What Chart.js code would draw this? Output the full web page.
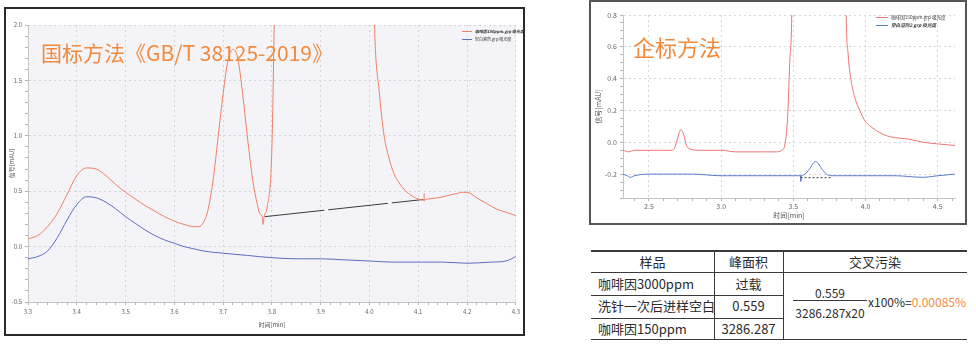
<!DOCTYPE html>
<html>
<head>
<meta charset="utf-8">
<script src="https://cdn.jsdelivr.net/npm/chart.js@4.4.1/dist/chart.umd.min.js"></script>
<style>
  html, body { margin: 0; padding: 0; background: #fff; }
  body { width: 976px; height: 346px; position: relative; overflow: hidden;
         font-family: "Noto Sans CJK SC", "Noto Sans", sans-serif; }
  .frame { position: absolute; box-sizing: border-box; background: #fff; }
  #gbFrame { left: 4px; top: 7px; width: 521px; height: 329px; border: 2px solid #2a2a2a; }
  #qbFrame { left: 589px; top: 0px; width: 378px; height: 225px; border: 2px solid #555; }
  canvas { position: absolute; }
  #gbChart { left: 6px; top: 9px; }
  #qbChart { left: 591px; top: 2px; }
  .method { position: absolute; color: #f28a3d; white-space: nowrap; line-height: 1; }
  .cell { position: absolute; color: #2b2b2b; font-size: 13px; white-space: nowrap; line-height: 22px; height: 22px; }
  .cell.small { font-size: 12px; }
  .rule { position: absolute; background: #3a3a3a; }
</style>
</head>
<body>
<div class="frame" id="gbFrame"></div>
<div class="frame" id="qbFrame"></div>
<canvas id="gbChart" width="517" height="325"></canvas>
<canvas id="qbChart" width="374" height="221"></canvas>
<div class="method" style="left:41px; top:42px; font-size:21px;">国标方法《GB/T 38125-2019》</div>
<div class="method" style="left:633px; top:35px; font-size:22px;">企标方法</div>
<div id="table"></div>

<script>
// ---- GB/T 38125-2019 run: caffeine standard (red) and blank injection (blue)
const gbRedTime = [3.30, 3.32, 3.34, 3.36, 3.38, 3.40, 3.42, 3.44, 3.46, 3.48, 3.50, 3.52, 3.54, 3.56, 3.58,
  3.60, 3.62, 3.64, 3.65, 3.66, 3.67, 3.68, 3.69, 3.70, 3.71, 3.72, 3.73, 3.74, 3.75, 3.76, 3.77, 3.775,
  3.78, 3.782, 3.784, 3.79, 3.80, 3.805, 3.90, 4.01, 4.02, 4.03, 4.04, 4.05, 4.06, 4.07, 4.08, 4.09, 4.10,
  4.11, 4.12, 4.14, 4.16, 4.18, 4.19, 4.20, 4.22, 4.24, 4.26, 4.28, 4.30];
const gbRedSignal = [0.07, 0.10, 0.18, 0.30, 0.47, 0.64, 0.71, 0.70, 0.64, 0.56, 0.49, 0.43, 0.37, 0.32, 0.27,
  0.23, 0.20, 0.18, 0.18, 0.22, 0.35, 0.62, 1.00, 1.38, 1.68, 1.78, 1.70, 1.38, 0.98, 0.62, 0.38, 0.30,
  0.27, 0.20, 0.27, 0.35, 0.90, 2.10, 30.0, 2.05, 1.40, 1.00, 0.80, 0.66, 0.58, 0.52, 0.48, 0.45, 0.43,
  0.42, 0.43, 0.44, 0.46, 0.48, 0.49, 0.49, 0.44, 0.39, 0.34, 0.31, 0.28];
const gbBlueTime = [3.30, 3.32, 3.34, 3.36, 3.38, 3.40, 3.42, 3.44, 3.46, 3.48, 3.50, 3.52, 3.54, 3.56, 3.58,
  3.60, 3.62, 3.64, 3.66, 3.70, 3.75, 3.80, 3.85, 3.90, 3.95, 4.00, 4.05, 4.10, 4.15, 4.20, 4.25,
  4.28, 4.30];
const gbBlueSignal = [-0.11, -0.09, -0.04, 0.08, 0.24, 0.38, 0.45, 0.44, 0.40, 0.34, 0.27, 0.21, 0.15, 0.10, 0.06,
  0.03, 0.00, -0.02, -0.04, -0.06, -0.08, -0.10, -0.11, -0.11, -0.12, -0.13, -0.14, -0.14, -0.14, -0.15, -0.14,
  -0.13, -0.09];
// integration baseline across the late window and its end marker
const gbBaseTime = [3.785, 4.11];
const gbBaseSignal = [0.27, 0.425];
const gbMarkTime = [4.112, 4.112];
const gbMarkSignal = [0.41, 0.48];
const gbXTicks = [3.3, 3.4, 3.5, 3.6, 3.7, 3.8, 3.9, 4.0, 4.1, 4.2, 4.3];
const gbYTicks = [-0.5, 0.0, 0.5, 1.0, 1.5, 2.0];

// ---- in-house method run
const qbRedTime = [2.32, 2.36, 2.40, 2.50, 2.60, 2.66, 2.68, 2.70, 2.72, 2.74, 2.76, 2.78, 2.85, 3.00, 3.10,
  3.20, 3.30, 3.38, 3.42, 3.44, 3.46, 3.475, 3.49, 3.68, 3.865, 3.88, 3.90, 3.93, 3.96, 4.00, 4.05, 4.10,
  4.15, 4.20, 4.30, 4.40, 4.50, 4.62];
const qbRedSignal = [-0.05, -0.06, -0.05, -0.05, -0.05, -0.05, -0.03, 0.03, 0.08, 0.05, -0.02, -0.04, -0.05, -0.05, -0.06,
  -0.06, -0.06, -0.06, -0.05, -0.02, 0.15, 0.50, 0.85, 20.0, 0.85, 0.55, 0.39, 0.27, 0.20, 0.13, 0.09, 0.06,
  0.04, 0.03, 0.02, 0.00, -0.01, -0.02];
const qbBlueTime = [2.32, 2.35, 2.37, 2.40, 2.50, 2.60, 2.80, 3.00, 3.20, 3.40, 3.50, 3.55, 3.58, 3.61, 3.64,
  3.655, 3.67, 3.70, 3.73, 3.76, 3.90, 4.00, 4.20, 4.40, 4.50, 4.62];
const qbBlueSignal = [-0.20, -0.21, -0.22, -0.21, -0.20, -0.20, -0.20, -0.21, -0.21, -0.21, -0.21, -0.21, -0.20, -0.17, -0.13,
  -0.12, -0.13, -0.17, -0.20, -0.21, -0.21, -0.21, -0.21, -0.22, -0.21, -0.20];
const qbBaseTime = [3.55, 3.77];
const qbBaseSignal = [-0.222, -0.222];
const qbMarkTime = [3.552, 3.552];
const qbMarkSignal = [-0.21, -0.245];
const qbXTicks = [2.5, 3.0, 3.5, 4.0, 4.5];
const qbYTicks = [-0.2, 0.0, 0.2, 0.4, 0.6, 0.8];

// ---- cross-contamination table
const tableHead = ['样品', '峰面积', '交叉污染'];
const sampleNames = ['咖啡因3000ppm', '洗针一次后进样空白', '咖啡因150ppm'];
const peakAreas = ['过载', '0.559', '3286.287'];
const blankArea = 0.559;
const standardArea = 3286.287;
const concentrationRatio = 20;

Chart.defaults.font.family = '"Noto Sans CJK SC", "Liberation Sans", sans-serif';

function pts(xs, ys) { return xs.map((x, i) => ({ x: x, y: ys[i] })); }
function near(v, list) { return list.some(t => Math.abs(t - v) < 1e-6); }
function stepTicks(min, max, step) {
  const out = [];
  const k0 = Math.ceil(min / step - 1e-9), k1 = Math.floor(max / step + 1e-9);
  for (let k = k0; k <= k1; k++) out.push({ value: +(k * step).toFixed(6) });
  return out;
}

function axis(o) {
  return {
    type: 'linear', min: o.min, max: o.max,
    afterBuildTicks: s => { s.ticks = stepTicks(o.min, o.max, o.minor); },
    afterFit: s => { if (o.width) s.width = o.width; if (o.height) s.height = o.height; },
    ticks: {
      autoSkip: false, maxRotation: 0, minRotation: 0, padding: o.tickPad, color: '#666',
      font: { size: o.font },
      callback: v => near(v, o.major) ? v.toFixed(1) : ''
    },
    grid: {
      color: c => (c.tick && near(c.tick.value, o.major)) ? '#d4d4da' : 'rgba(0,0,0,0)',
      tickColor: '#b4b4b4', tickLength: 3, lineWidth: 1, tickBorderDash: []
    },
    border: { color: '#c4c4c4', dash: [2, 3] },
    title: { display: true, text: o.title, color: '#555', font: { size: o.font }, padding: o.titlePad }
  };
}

// plot-area fill and the in-plot legend
const plotFill = {
  id: 'plotFill',
  beforeDraw(chart, args, opts) {
    const a = chart.chartArea, ctx = chart.ctx;
    ctx.save();
    ctx.fillStyle = opts.color;
    ctx.fillRect(a.left, a.top, a.right - a.left, a.bottom - a.top);
    ctx.restore();
  }
};
const inlineLegend = {
  id: 'inlineLegend',
  afterDatasetsDraw(chart, args, opts) {
    const ctx = chart.ctx;
    const items = chart.data.datasets.filter(d => d.label);
    ctx.save();
    items.forEach((ds, i) => {
      const y = opts.y + i * opts.gap;
      ctx.strokeStyle = ds.borderColor;
      ctx.lineWidth = 1;
      ctx.beginPath();
      ctx.moveTo(opts.x, y + 0.5);
      ctx.lineTo(opts.x + opts.len, y + 0.5);
      ctx.stroke();
      ctx.font = (ds.legendStyle || '') + ' ' + opts.size + 'px "Noto Sans CJK SC", sans-serif';
      ctx.fillStyle = '#333';
      ctx.textBaseline = 'middle';
      ctx.fillText(ds.label, opts.x + opts.len + 3, y + 0.5);
    });
    ctx.restore();
  }
};

function line(label, xs, ys, color, extra) {
  return Object.assign({
    label: label, data: pts(xs, ys), borderColor: color, borderWidth: 1,
    pointRadius: 0, fill: false, cubicInterpolationMode: 'monotone'
  }, extra || {});
}

function baseOptions(padding, legend, fill) {
  return {
    responsive: false, animation: false, events: [],
    layout: { padding: padding },
    plugins: { legend: { display: false }, tooltip: { enabled: false },
               inlineLegend: legend, plotFill: { color: fill } }
  };
}

// GB/T chart
const gbOpts = baseOptions({ left: 0, top: 16, right: 6, bottom: 4 },
  { x: 456, y: 22, gap: 8, len: 10, size: 4 }, '#f4f4f8');
gbOpts.scales = {
  x: axis({ min: 3.3, max: 4.3, minor: 0.02, major: gbXTicks, font: 6, tickPad: 3, height: 28,
            title: '时间[min]', titlePad: { top: 1, bottom: 2 } }),
  y: axis({ min: -0.5, max: 2.0, minor: 0.1, major: gbYTicks, font: 6, tickPad: 3, width: 22,
            title: '信号[mAU]', titlePad: { top: 2, bottom: 2 } })
};
new Chart(document.getElementById('gbChart'), {
  type: 'line',
  data: { datasets: [
    line('咖啡因150ppm.grp 吸光度', gbRedTime, gbRedSignal, '#f07f63', { legendStyle: 'italic bold' }),
    line('空白溶剂.grp 吸光度', gbBlueTime, gbBlueSignal, '#5b6dbf'),
    line('', gbBaseTime, gbBaseSignal, '#3c3c3c', { borderDash: [60, 4], cubicInterpolationMode: 'default', tension: 0 }),
    line('', gbMarkTime, gbMarkSignal, '#f07f63', { cubicInterpolationMode: 'default', tension: 0 })
  ] },
  options: gbOpts,
  plugins: [plotFill, inlineLegend]
});

// in-house method chart
const qbOpts = baseOptions({ left: 0, top: 13, right: 10, bottom: 0 },
  { x: 285, y: 15, gap: 8, len: 12, size: 4.6 }, '#ffffff');
qbOpts.scales = {
  x: axis({ min: 2.32, max: 4.62, minor: 0.1, major: qbXTicks, font: 7, tickPad: 1, height: 25,
            title: '时间[min]', titlePad: { top: 1, bottom: 3 } }),
  y: axis({ min: -0.35, max: 0.8, minor: 0.05, major: qbYTicks, font: 7, tickPad: 3, width: 32,
            title: '信号[mAU]', titlePad: { top: 3, bottom: 2 } })
};
new Chart(document.getElementById('qbChart'), {
  type: 'line',
  data: { datasets: [
    line('咖啡因150ppm.grp 吸光度', qbRedTime, qbRedSignal, '#ee7676'),
    line('空白溶剂2.grp 吸光度', qbBlueTime, qbBlueSignal, '#5a7ccc', { legendStyle: 'italic bold' }),
    line('', qbBaseTime, qbBaseSignal, '#444', { borderDash: [2, 2], cubicInterpolationMode: 'default', tension: 0 }),
    line('', qbMarkTime, qbMarkSignal, '#5a7ccc', { cubicInterpolationMode: 'default', tension: 0 })
  ] },
  options: qbOpts,
  plugins: [plotFill, inlineLegend]
});

// table of peak areas and the cross-contamination ratio
(function buildTable() {
  const host = document.getElementById('table');
  function el(cls, css, text) {
    const d = document.createElement('div');
    d.className = cls;
    d.style.cssText = css;
    if (text !== undefined) d.textContent = text;
    host.appendChild(d);
    return d;
  }
  const cols = [591, 714, 783, 967];
  const rows = [250, 272, 295, 318, 340];
  // rules
  el('rule', `left:${cols[0]}px;top:${rows[0]}px;width:${cols[3] - cols[0]}px;height:2px;`);
  el('rule', `left:${cols[0]}px;top:${rows[1]}px;width:${cols[3] - cols[0]}px;height:1px;`);
  el('rule', `left:${cols[0]}px;top:${rows[2]}px;width:${cols[2] - cols[0]}px;height:1px;`);
  el('rule', `left:${cols[0]}px;top:${rows[3]}px;width:${cols[2] - cols[0]}px;height:1px;`);
  el('rule', `left:${cols[0]}px;top:${rows[4] - 1}px;width:${cols[3] - cols[0]}px;height:1px;`);
  el('rule', `left:${cols[1]}px;top:${rows[0]}px;width:1px;height:${rows[4] - rows[0]}px;`);
  el('rule', `left:${cols[2]}px;top:${rows[0]}px;width:1px;height:${rows[4] - rows[0]}px;`);
  // header
  tableHead.forEach((t, i) => {
    el('cell', `left:${cols[i]}px;top:${rows[0] + 1}px;width:${cols[i + 1] - cols[i]}px;text-align:center;`, t);
  });
  // body rows
  sampleNames.forEach((name, r) => {
    const top = rows[r + 1] + (r === 0 ? 1 : 0);
    el('cell', `left:598px;top:${top}px;`, name);
    el('cell', `left:${cols[1]}px;top:${top}px;width:${cols[2] - cols[1]}px;text-align:center;`, peakAreas[r]);
  });
  // ratio: blank area / (standard area x ratio) x 100%
  const pct = blankArea / (standardArea * concentrationRatio) * 100;
  el('cell small', 'left:790px;top:282px;width:80px;text-align:center;', String(blankArea));
  el('rule', 'left:793px;top:300px;width:74px;height:1px;');
  el('cell small', 'left:790px;top:302px;width:80px;text-align:center;', standardArea + 'x' + concentrationRatio);
  const f = el('cell small', 'left:868px;top:291px;');
  f.appendChild(document.createTextNode('x100%='));
  const s = document.createElement('span');
  s.style.color = '#f28a3d';
  s.textContent = pct.toFixed(5) + '%';
  f.appendChild(s);
})();
</script>
</body>
</html>
